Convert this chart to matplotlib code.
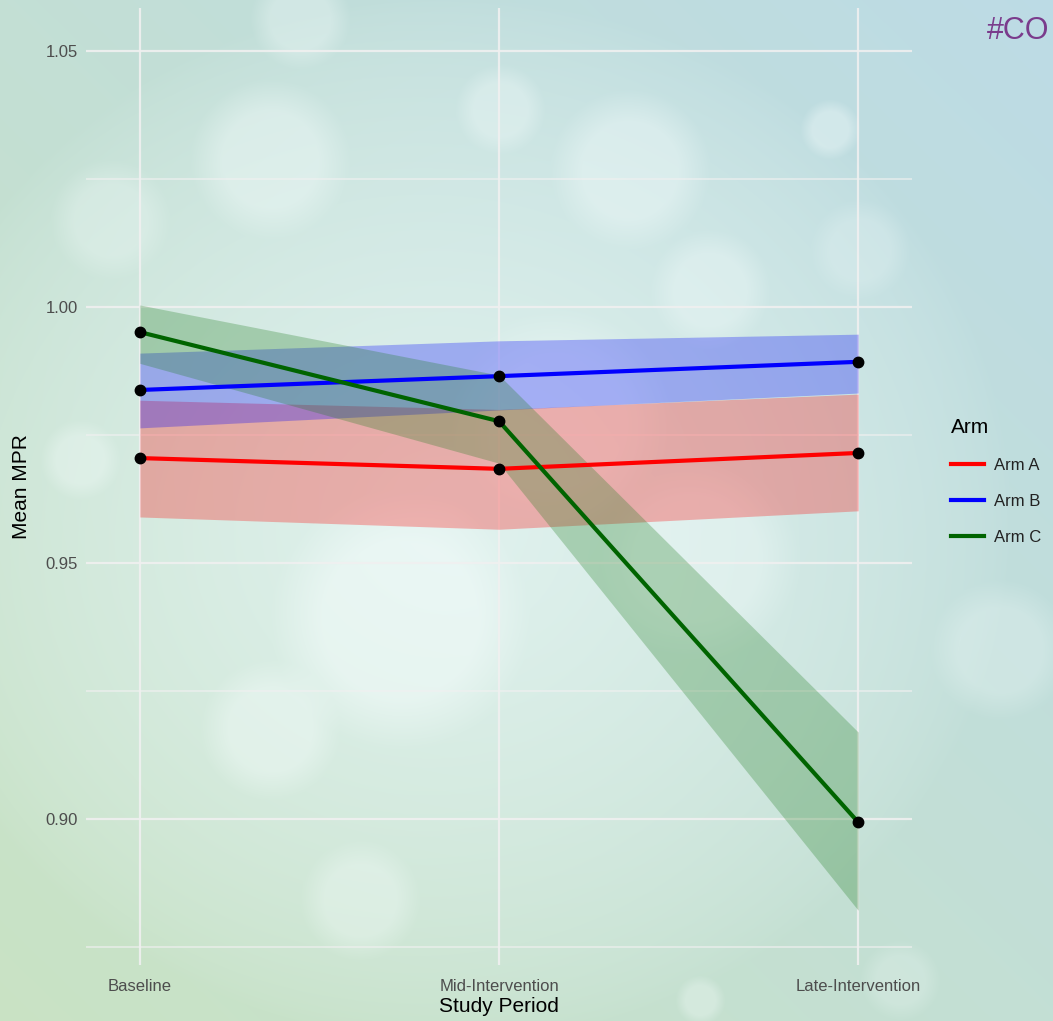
import numpy as np
import matplotlib
matplotlib.use("Agg")
import matplotlib.pyplot as plt
from matplotlib.lines import Line2D

# ---- data ----
periods = ["Baseline", "Mid-Intervention", "Late-Intervention"]
arms = ["Arm A", "Arm B", "Arm C"]
arm_a_mean = [0.9705, 0.9684, 0.9715]
arm_a_low = [0.9590, 0.9566, 0.9602]
arm_a_high = [0.9818, 0.9800, 0.9830]
arm_b_mean = [0.9838, 0.9865, 0.9893]
arm_b_low = [0.9764, 0.9799, 0.9832]
arm_b_high = [0.9910, 0.9934, 0.9947]
arm_c_mean = [0.9951, 0.9777, 0.8994]
arm_c_low = [0.9890, 0.9695, 0.8822]
arm_c_high = [1.0004, 0.9867, 0.9170]
yticks = [0.90, 0.95, 1.00, 1.05]
minor_yticks = [0.875, 0.925, 0.975, 1.025]

line_colors = ["#ff0000", "#0000ff", "#006400"]
fill_colors = ["#ff0000", "#0000ff", "#1e7b1e"]

plt.rcParams['font.family'] = ['Liberation Sans', 'DejaVu Sans']

W, H = 1053, 1021
fig = plt.figure(figsize=(W / 100, H / 100), dpi=100)

# ---- decorative background (gradient with soft bokeh glows) ----
bg = fig.add_axes([0, 0, 1, 1])
yy, xx = np.mgrid[0:H, 0:W]
u = xx / W
v = yy / H
top_right = np.array([0.74, 0.86, 0.90])
bottom_left = np.array([0.79, 0.89, 0.77])
t = np.clip((v + (1 - u)) / 2, 0, 1)[..., None]
img = top_right * (1 - t) + bottom_left * t
# broad central glow
d = np.sqrt(((xx - 450) / 560) ** 2 + ((yy - 520) / 520) ** 2)
g = (np.clip(1 - d, 0, 1) ** 0.7 * 0.7)[..., None]
img = img * (1 - g) + np.array([0.93, 0.98, 0.98]) * g
circles = [(270, 160, 80, 0.35), (630, 170, 80, 0.35), (500, 110, 45, 0.3),
           (400, 620, 130, 0.45), (270, 730, 70, 0.35), (700, 560, 100, 0.3),
           (560, 420, 110, 0.3), (110, 220, 60, 0.25), (1000, 650, 70, 0.25),
           (830, 130, 30, 0.35), (360, 900, 60, 0.3), (900, 980, 40, 0.2),
           (80, 460, 40, 0.3), (710, 290, 60, 0.3), (860, 250, 50, 0.2),
           (300, 20, 50, 0.3), (700, 1000, 25, 0.3)]
for cx, cy, r, a in circles:
    dd = np.sqrt((xx - cx) ** 2 + (yy - cy) ** 2)
    m = np.clip((r - dd) / (0.4 * r), 0, 1)[..., None] * a
    img = img * (1 - m) + np.array([0.97, 0.995, 0.995]) * m
bg.imshow(np.clip(img, 0, 1), aspect='auto', extent=[0, 1, 0, 1], interpolation='bilinear')
bg.set_axis_off()

# ---- main axes ----
left, right = 86 / W, 912 / W
top, bottom = 1 - 8 / H, 1 - 965 / H
ax = fig.add_axes([left, bottom, right - left, top - bottom])
ax.patch.set_alpha(0)
for s in ax.spines.values():
    s.set_visible(False)

x = np.arange(1, len(periods) + 1)
ax.set_xlim(0.85, 3.15)
ax.set_ylim(0.8715, 1.0584)

ax.set_yticks(yticks)
ax.set_yticks(minor_yticks, minor=True)
ax.set_yticklabels([f"{v:.2f}" for v in yticks])
ax.set_xticks(x)
ax.set_xticklabels(periods)
ax.grid(True, which='major', color='#f0f0f0', lw=1.6, alpha=0.9)
ax.grid(True, which='minor', axis='y', color='#f0f0f0', lw=1.1, alpha=0.8)
ax.set_axisbelow(True)
ax.tick_params(which='both', length=0, labelsize=12, labelcolor='#4d4d4d')
ax.tick_params(axis='x', pad=10)
ax.tick_params(axis='y', pad=6)

means = [arm_a_mean, arm_b_mean, arm_c_mean]
lows = [arm_a_low, arm_b_low, arm_c_low]
highs = [arm_a_high, arm_b_high, arm_c_high]
for i in range(3):
    ax.fill_between(x, lows[i], highs[i], color=fill_colors[i], alpha=0.28, lw=0, zorder=2)
for i in range(3):
    ax.plot(x, means[i], color=line_colors[i], lw=3, zorder=3, solid_capstyle='butt')
for i in range(3):
    ax.plot(x, means[i], 'o', color='black', ms=7.5, zorder=4)

ax.set_xlabel("Study Period", fontsize=15, color='black', labelpad=2)
ax.set_ylabel("Mean MPR", fontsize=15, color='black', labelpad=10)

handles = [Line2D([], [], color=c, lw=3) for c in line_colors]
leg = fig.legend(handles, arms, title="Arm", loc='upper left',
                 bbox_to_anchor=(936 / W, 1 - 403 / H), frameon=False,
                 fontsize=12, title_fontsize=15, handlelength=2.0,
                 handletextpad=0.6, labelspacing=1.25, alignment='left')
for txt in leg.get_texts():
    txt.set_color('#222222')

fig.text(987 / W, 1 - 31 / H, "#CO", fontsize=22, color='#7a3b8c', va='center', ha='left')

fig.savefig("out.png", dpi=100)
